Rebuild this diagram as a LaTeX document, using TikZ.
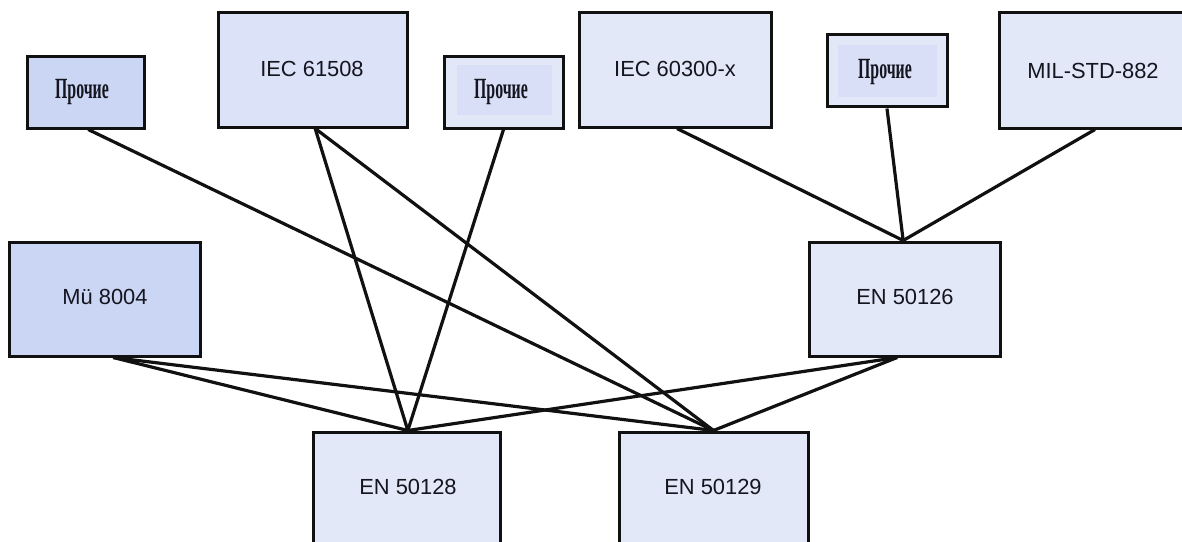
\documentclass[tikz,border=0pt]{standalone}
\usepackage{fontspec}
\setmainfont{Liberation Sans}
\newfontfamily\prochfont[FakeStretch=0.54]{Liberation Serif}
\definecolor{edge}{HTML}{111111}
\definecolor{txtc}{HTML}{15151F}
\definecolor{fillA}{HTML}{CBD6F5}
\definecolor{fillB}{HTML}{DCE3F8}
\definecolor{fillC}{HTML}{E3E8F8}
\definecolor{fillIn}{HTML}{D8DFF7}
\tikzset{
  box/.style={draw=edge, line width=2.25pt, rectangle, inner sep=0pt},
  lbl/.style={text=txtc, font=\fontsize{16.4}{18}\selectfont, inner sep=0pt},
  plbl/.style={text=txtc, font=\prochfont\bfseries\fontsize{22}{24}\selectfont, inner sep=0pt},
  conn/.style={draw=edge, line width=2.4pt},
}
\begin{document}
\begin{tikzpicture}[x=0.75pt, y=-0.75pt]
\useasboundingbox (0,0) rectangle (1182,542);
\clip (0,0) rectangle (1182,542);
\fill[white] (0,0) rectangle (1182,542);

% top row
\node[box, fill=fillA, minimum width=117*0.75pt, minimum height=71*0.75pt] (p1) at (85.5,92.5) {};
\node[plbl] (p1t) at (82,92) {Прочие};

\node[box, fill=fillB, minimum width=189*0.75pt, minimum height=114*0.75pt] (iec1) at (312.5,70) {};
\node[lbl] (iec1t) at (312,69) {IEC 61508};

\node[box, fill=fillC, minimum width=119*0.75pt, minimum height=71*0.75pt] (p2) at (503.5,92.5) {};
\fill[fillIn] (457,65) rectangle (552,115);
\node[plbl] (p2t) at (501,92) {Прочие};

\node[box, fill=fillC, minimum width=192*0.75pt, minimum height=114*0.75pt] (iec2) at (675,70) {};
\node[lbl] (iec2t) at (675,69) {IEC 60300-x};

\node[box, fill=fillC, minimum width=120*0.75pt, minimum height=72*0.75pt] (p3) at (887,71) {};
\fill[fillIn] (838,45) rectangle (937,97);
\node[plbl] (p3t) at (885,72) {Прочие};

\node[box, fill=fillC, minimum width=192*0.75pt, minimum height=115*0.75pt] (mil) at (1095,70.5) {};
\node[lbl] (milt) at (1093,71) {MIL-STD-882};

% middle row
\node[box, fill=fillA, minimum width=191*0.75pt, minimum height=114*0.75pt] (mu) at (104.5,299) {};
\node[lbl] (mut) at (105,297) {Mü 8004};

\node[box, fill=fillC, minimum width=191*0.75pt, minimum height=114*0.75pt] (en126) at (904.5,299) {};
\node[lbl] (en126t) at (905,297) {EN 50126};

% bottom row
\node[box, fill=fillC, minimum width=187*0.75pt, minimum height=118*0.75pt] (en128) at (406.5,491) {};
\node[lbl] (en128t) at (408,487) {EN 50128};

\node[box, fill=fillC, minimum width=189*0.75pt, minimum height=118*0.75pt] (en129) at (713.5,491) {};
\node[lbl] (en129t) at (713,487) {EN 50129};

% connectors
\draw[conn] ([xshift=2pt]p1.south) -- (en129.north);
\draw[conn] ([xshift=2pt]iec1.south) -- ([xshift=1pt]en128.north);
\draw[conn] ([xshift=2pt]iec1.south) -- (en129.north);
\draw[conn] (p2.south) -- ([xshift=1pt]en128.north);
\draw[conn] ([xshift=1.5pt]iec2.south) -- ([xshift=-1pt]en126.north);
\draw[conn] (p3.south) -- ([xshift=-1pt]en126.north);
\draw[conn] (mil.south) -- ([xshift=-1pt]en126.north);
\draw[conn] ([xshift=6.5pt]mu.south) -- ([xshift=1pt]en128.north);
\draw[conn] ([xshift=6.5pt]mu.south) -- (en129.north);
\draw[conn] ([xshift=-5.5pt]en126.south) -- ([xshift=1pt]en128.north);
\draw[conn] ([xshift=-5.5pt]en126.south) -- (en129.north);
\end{tikzpicture}
\end{document}
